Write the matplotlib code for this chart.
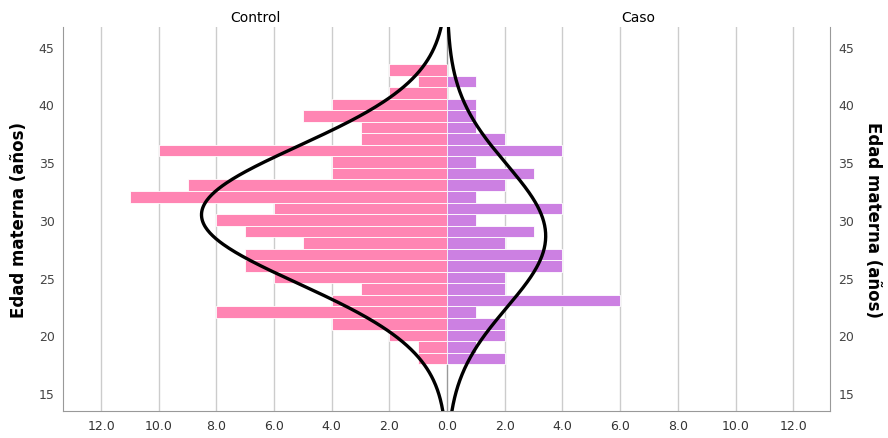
import numpy as np
from matplotlib import pyplot as plt

# edades (centro de cada barra) y frecuencias
edad = [43, 42, 41, 40, 39, 38, 37, 36, 35, 34, 33, 32, 31,
        30, 29, 28, 27, 26, 25, 24, 23, 22, 21, 20, 19, 18]
control = [2, 1, 2, 4, 5, 3, 3, 10, 4, 4, 9, 11, 6,
           8, 7, 5, 7, 7, 6, 3, 4, 8, 4, 2, 1, 1]
caso = [0, 1, 0, 1, 1, 1, 2, 4, 1, 3, 2, 1, 4,
        1, 3, 2, 4, 4, 2, 2, 6, 1, 2, 2, 1, 2]

x_ticks = [0, 2, 4, 6, 8, 10, 12]
y_ticks = [15, 20, 25, 30, 35, 40, 45]

PINK = '#ff85b3'
PURPLE = '#cc80e2'
GRID = '#cccccc'
TICK_FONT = ['Liberation Sans Narrow', 'DejaVu Sans']


def normal_curve(ages, counts, y):
    # curva normal escalada a la frecuencia (ancho de barra = 1)
    ages = np.array(ages, dtype=float)
    counts = np.array(counts, dtype=float)
    n = counts.sum()
    mu = (ages * counts).sum() / n
    sd = np.sqrt(((ages - mu) ** 2 * counts).sum() / (n - 1))
    return n / (sd * np.sqrt(2 * np.pi)) * np.exp(-0.5 * ((y - mu) / sd) ** 2)


def style_panel(ax, side):
    ax.set_ylim(13.45, 46.7)
    ax.set_yticks(y_ticks)
    ax.set_xticks(x_ticks)
    labels = ['{:.1f}'.format(v) for v in x_ticks]
    if side == 'left':
        labels[0] = ''  # el 0.0 central se dibuja una sola vez
    ax.set_xticklabels(labels, family=TICK_FONT, fontsize=9, color='#333333')
    for v in x_ticks:
        ax.axvline(v, color=GRID if v else '#999999', lw=1, zorder=0)
    ax.spines['top'].set_visible(False)
    ax.tick_params(axis='both', length=0, pad=6)
    for s in ['left', 'right', 'bottom']:
        ax.spines[s].set_color('#999999')
    if side == 'left':
        ax.spines['right'].set_visible(False)
        ax.yaxis.tick_left()
    else:
        ax.spines['left'].set_visible(False)
        ax.yaxis.tick_right()
    ax.set_yticklabels([str(v) for v in y_ticks], family=TICK_FONT,
                       fontsize=9, color='#444444')


def main():
    fig = plt.figure(figsize=(8.88, 4.39), dpi=100)
    ax1 = fig.add_axes([0.0709, 0.0615, 0.4324, 0.8747])
    ax2 = fig.add_axes([0.5034, 0.0615, 0.4313, 0.8747])

    y = np.linspace(13.45, 46.7, 400)

    ax1.barh(edad, control, height=1.0, color=PINK, edgecolor='white', lw=0.6, zorder=2)
    ax1.plot(normal_curve(edad, control, y), y, color='black', lw=2.4, zorder=3)
    ax1.set_xlim(13.33, 0)

    ax2.barh(edad, caso, height=1.0, color=PURPLE, edgecolor='white', lw=0.6, zorder=2)
    ax2.plot(normal_curve(edad, caso, y), y, color='black', lw=2.4, zorder=3)
    ax2.set_xlim(0, 13.27)

    style_panel(ax1, 'left')
    style_panel(ax2, 'right')

    ax1.set_title('Control', fontsize=10, pad=4)
    ax2.set_title('Caso', fontsize=10, pad=4)

    ax1.set_ylabel('Edad materna (años)', fontsize=12, fontweight='bold', labelpad=8)
    ax2.yaxis.set_label_position('right')
    ax2.set_ylabel('Edad materna (años)', fontsize=12, fontweight='bold',
                   rotation=-90, labelpad=20)

    fig.savefig('out.png', dpi=100)


if __name__ == '__main__':
    main()
